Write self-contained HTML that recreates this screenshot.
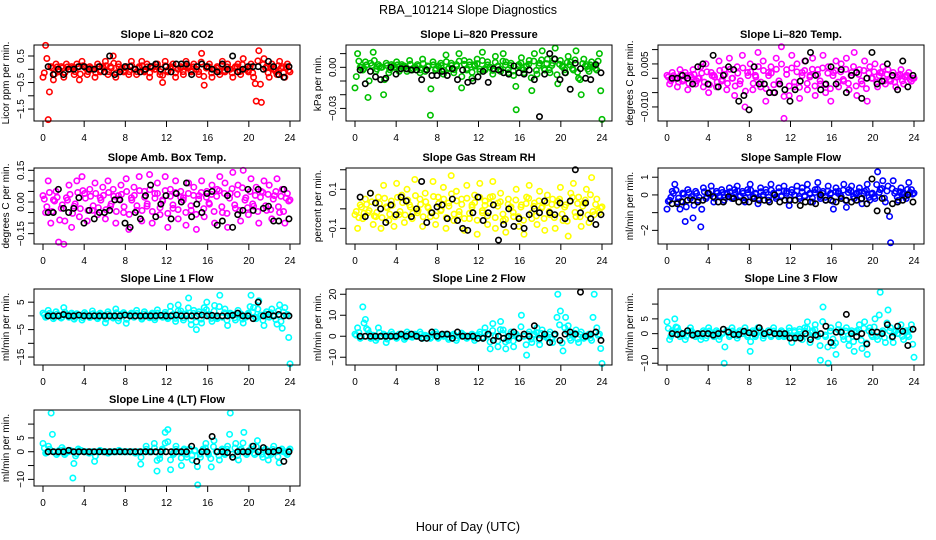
<!DOCTYPE html>
<html><head><meta charset="utf-8">
<style>
html,body{margin:0;padding:0;background:#fff;}
svg{display:block;font-family:"Liberation Sans",Arial,sans-serif;}
</style></head>
<body>
<svg id="chart" width="936" height="540" viewBox="0 0 936 540" xmlns="http://www.w3.org/2000/svg">
<rect width="936" height="540" fill="#fff"/>
<text x="468" y="14" text-anchor="middle" font-size="12.5">RBA_101214  Slope Diagnostics</text>
<text x="468" y="531" text-anchor="middle" font-size="12.5">Hour of Day (UTC)</text>
</svg>
<script>
// ---- data ----
const xTicks = [0,4,8,12,16,20,24];
const co2Color = [-0.3,0.9,-1.9,0.1,-0.4,0.2,-0.1,0.1,-0.3,0.2,0,0.1,-0.2,0.2,-0.4,0.3,0.1,-0.2,0.1,0,-0.3,0.2,-0.1,0.1,0.3,-0.2,0.1,0.5,-0.3,0.2,0,-0.1,0.1,-0.2,0.3,0,-0.2,0.1,0.3,-0.1,0.2,-0.3,0.1,0,0.2,-0.2,-0.5,0.3,-0.1,0.1,0.2,-0.3,0,0.1,-0.2,0.3,0.1,-0.1,0.2,0,-0.2,0.6,-0.6,0.1,0.2,-0.3,0,0.1,-0.2,0.3,-0.1,0.2,0,-0.3,0.1,0.2,-0.2,0.4,0,-0.1,0.2,-0.3,-1.2,0.7,-1.25,0.4,0.1,-0.3,0.2,0,-0.2,0.3,0.1,-0.3,0.2,-0.1];
const co2Black = [0.1,-0.2,0,-0.2,0,0,0.1,0.1,0,0,0.1,-0.1,0.5,-0.2,-0.1,0.1,0.1,0,-0.1,0,0.1,0.2,0,0.1,-0.1,0.2,0.2,0.2,-0.2,0.1,0.2,0.1,0,-0.1,0.2,0,0.5,-0.1,0,0.1,0.1,0.1,0,0.3,0.1,-0.2,-0.3,0.1];
const presColor = [-0.015,0.01,0,-0.002,0.004,-0.022,0.003,0.011,-0.003,0.002,0,-0.02,0.003,-0.004,0.002,0,0.004,-0.003,0.002,0.001,-0.003,0.005,-0.002,0,0.002,-0.004,0.006,-0.003,0.001,-0.035,0.004,-0.002,0.001,0.003,-0.005,0.009,-0.001,0.003,-0.004,0.002,0.010,-0.015,0.005,-0.002,0.004,-0.008,0.002,0.006,-0.003,0.011,-0.002,0.004,0,-0.005,0.008,0.001,-0.003,0.010,0.004,-0.004,0.003,-0.006,-0.031,0.002,0.007,-0.004,0.001,0.005,-0.017,0.010,-0.005,0.003,0.012,-0.002,0.006,-0.004,0.003,0.014,-0.012,0.005,0.001,-0.004,0.008,0.004,-0.002,0.012,-0.008,-0.020,0.006,0.002,-0.003,0.004,0.001,-0.002,0.010,-0.038];
const presBlack = [-0.002,-0.012,-0.003,-0.007,-0.009,-0.008,0,-0.005,-0.001,-0.001,-0.002,-0.002,-0.009,-0.002,-0.006,-0.006,-0.003,-0.006,-0.001,-0.009,-0.002,-0.011,-0.010,-0.007,-0.003,-0.011,-0.001,-0.002,-0.004,-0.005,0.001,-0.004,-0.005,-0.002,-0.009,-0.036,-0.005,0.010,0.006,-0.009,-0.004,-0.016,0.003,-0.001,-0.008,-0.009,0.002,-0.004];
const tempColor = [0.001,-0.002,0.002,0,-0.003,0.003,-0.001,0.002,-0.004,0.001,0.003,-0.002,0,0.004,-0.003,0.005,-0.005,0.002,0.001,-0.003,0.006,-0.001,0.003,-0.004,0.007,0,-0.006,0.004,-0.002,0.008,-0.010,0.002,0.005,-0.004,0.001,0.009,-0.003,0.006,-0.008,0.002,0.004,-0.005,0.007,-0.002,0.011,-0.014,0.003,-0.006,0.008,-0.003,0.005,-0.007,0.002,0.006,-0.004,0.001,0.007,-0.006,0.003,-0.002,0.008,-0.005,0.004,-0.008,0.002,0.006,-0.003,0.005,-0.001,0.007,-0.004,0.002,0.009,-0.006,0.003,-0.002,0.006,-0.008,0.004,0,0.005,-0.003,0.002,0.004,-0.002,0.003,-0.001,0.002,-0.003,0.001,0.003,-0.002,0.001,0.002,-0.001,0];
const tempBlack = [0,0,0.001,0,-0.002,0.004,0.005,-0.002,0.008,-0.003,0.001,0.004,0.003,-0.008,-0.006,-0.011,0.004,-0.002,-0.002,-0.005,-0.005,-0.002,-0.004,-0.008,-0.004,-0.001,0.006,0.009,0.001,-0.004,-0.002,0.004,-0.002,0.003,-0.005,0.001,0.002,-0.007,0,0.009,-0.002,-0.001,0.005,0.001,-0.004,0.006,-0.003,0.001];
const ambColor = [0.03,-0.05,0.1,-0.1,0.01,0.05,-0.19,-0.03,-0.2,0.02,0.08,-0.12,-0.02,0.1,-0.07,0.12,0.04,-0.09,0.06,-0.04,0.09,-0.06,0.02,0.07,-0.08,0.1,-0.02,0.06,-0.1,0.03,0.08,-0.05,0.11,-0.13,0.02,0.07,-0.04,0.12,-0.09,0.05,-0.02,0.13,-0.1,0.04,0.09,-0.06,0.01,0.12,-0.12,0.06,-0.03,0.1,-0.08,0.05,0.02,-0.11,0.09,-0.04,0.07,-0.13,0.03,0.1,-0.07,0.05,-0.01,0.08,-0.1,0.06,0.12,-0.05,0.09,-0.12,0.04,0.14,-0.03,0.08,-0.09,0.15,0.02,-0.06,0.11,-0.02,0.07,-0.1,0.05,0.1,-0.04,0.08,-0.08,0.03,0.11,-0.05,0.06,-0.1,0.04,0.01];
const ambBlack = [-0.05,-0.05,0.06,-0.03,-0.05,-0.03,0.02,-0.1,-0.04,-0.08,-0.05,-0.05,-0.04,0.01,0.01,-0.1,-0.12,-0.05,-0.08,0.03,0.08,-0.07,-0.01,0.03,-0.08,0.04,0,0.09,-0.07,-0.01,-0.05,0.04,0.05,-0.11,-0.09,0.03,-0.12,-0.06,-0.04,0.06,-0.04,0.06,-0.03,-0.02,-0.09,-0.09,0.06,-0.08];
const rhColor = [-0.03,-0.1,0.02,-0.05,0.05,-0.02,0.08,-0.08,-0.04,0.06,-0.1,0.12,0.01,-0.06,0.04,-0.09,0.13,-0.03,0.07,-0.07,0.1,0.02,-0.05,0.15,-0.02,0.05,-0.09,0.08,0.01,-0.04,0.14,-0.08,0.06,-0.01,0.11,-0.1,0.03,0.17,-0.06,0.09,-0.03,0.05,-0.11,0.12,-0.05,0.02,0.07,-0.13,0.13,-0.02,0.04,-0.08,0.06,0.14,-0.1,0.03,0.08,-0.06,-0.12,0.05,0.01,-0.04,0.1,-0.09,0.02,-0.13,0.06,0.12,-0.05,0.03,-0.08,0.09,0.01,-0.11,0.07,-0.03,0.05,-0.1,0.04,0.11,-0.06,0.02,-0.14,0.08,0.13,-0.04,0.06,-0.09,0.03,0.1,-0.07,0.16,-0.03,0.05,-0.02,0.01];
const rhBlack = [0.06,-0.04,0.08,0.03,0,-0.07,0.02,-0.03,0.06,0.04,-0.04,0,0.14,-0.07,-0.02,0.01,0.02,-0.05,0.05,-0.06,-0.1,-0.11,-0.02,0.06,-0.06,-0.02,0.02,-0.16,-0.08,0,-0.09,-0.05,-0.1,-0.03,0,-0.02,0.04,-0.02,-0.03,0.03,-0.05,0.04,0.2,-0.02,0.03,-0.05,-0.08,-0.03];
const flowColor = [-0.8,-0.3,0.2,0.6,-0.4,-0.8,0.1,-1.5,0.3,-0.2,-1.3,0.2,-0.3,-1.8,0.4,-0.2,0.1,0.5,-0.4,0.2,-0.1,0.3,-0.3,0.1,0.4,-0.2,0.3,0.5,-0.1,0.2,-0.4,0.3,0.6,-0.2,0.1,-0.5,0.4,0,0.3,-0.3,0.6,0.1,-0.2,0.4,-0.1,0.5,0.2,-0.6,0.3,0,0.5,-0.2,0.4,-0.1,0.6,0.1,-0.4,0.3,0.7,-0.2,0.2,-0.3,0.5,0.1,-0.8,0.4,0.2,-0.1,0.6,-0.7,0.3,0.5,-0.2,0.1,0.4,-0.5,0.2,0.6,-0.3,0.1,-0.2,1.3,0.3,0.8,-0.4,0.5,-2.7,0.8,0.2,-0.3,0.4,0.1,-0.2,0.7,0.3,0.1];
const flowBlack = [-0.5,-0.5,-0.4,-0.3,-0.3,-0.4,-0.3,0.1,-0.1,-0.4,-0.4,-0.1,-0.2,-0.4,-0.3,-0.4,-0.2,-0.3,-0.3,-0.4,0,-0.4,-0.3,-0.3,-0.3,-0.6,-0.4,-0.4,-0.5,0,-0.3,-0.3,-0.4,-0.2,-0.3,-0.4,-0.3,-0.2,-0.5,0.9,-0.9,-0.2,-0.9,-0.5,-0.4,-0.3,0,-0.4];
const line1Color = [1,-0.5,2,0.3,-1,1.5,0.2,-0.8,3,0.5,-0.5,1,-1.2,0.8,0.3,-1.5,1.2,0,-0.6,1.8,0.4,-1,1,0.2,-2.5,1.5,0,-0.8,2.5,-1.8,0.6,1.2,-2.7,0.3,1,-0.5,2,0,-1.2,1.5,0.3,-0.7,1,-1.4,2.2,0,-0.5,1.3,-1,3.5,0.5,-2,4,1.8,-1.5,0.8,6.5,-3.2,2,-5,1.5,-2.6,3,5,0.5,-2,3.8,-1,7.5,-0.5,2.5,-3.5,1,0.5,-1.5,2,0.8,-2.6,-0.5,1,7.5,3,-1,5.5,0.3,-3.5,1.5,-0.5,2.5,0,-3,4,-4.5,3,0.5,-17.5];
const line1Black = [0,0,0,0.5,0,0,0.3,0,0,0,0,0,0,0,0,0.3,0,0,0,0,0,0,0.2,0,0,0.3,0,0,0,0,0.3,0,0.2,0,0,0,0.2,1,0,0,-1,5,0,0.5,0,0.5,0,0];
const line2Color = [1,4,-1,14,8,3,-1,0.5,-2,4,0,1,-3,0.5,2,0,-1,1,0.5,-1.5,2,0,-0.5,1,0,2,-1,0.5,0,-1,1,2,-1,0.5,0,1,-1.5,0.5,1,-2,0,1.5,0.5,-1,0,1,-2,0.5,2,-1,4,1,-6,6,0,-5,7,3,-6,-2,2,-5,1,-1,10,0,-9,2,-3,1,4,-4,3,0,-1,2,-3,1,20,12,-7,9,5,-2,1,3,-3,2,-1,0,1,-2,20,4,1,-13];
const line2Black = [0,0,0,0,0,0,0,0,1,0,1,0,-1,-1,2,0,1,1,-1,2,0,0,0,-1,-1,1,-2,0,-1,0,2,-1,1,0,5,-1,1,-3,1,-2,1,2,1,21,0,1,2,-2];
const line3Color = [4,-2,1,5,2,-1,0,-2,1,2,0,-1,0,-2,1,-1.5,2,0,-1,1,-2,0,-10,1,-1,2,0,-1.5,1,0,2,-1,-6,1,-1,2,1,-1.5,0,1,-1,2,0,-1,1,-1,0,2,-3,1,-1,1.5,-2,2,4,-3,1,3,-1,-9,9,-1,-10,2,-4,-7,3,1,-2,2,-4,1,-6,1,3,-5,4,-7,2,-1,5,-2,14,1,-3,8,2,-3,1,0,3,-2,1,-1,3,-8];
const line3Black = [0,-0.3,0,1,-0.5,0,0,0,-0.5,0,1.5,0.5,-0.3,-0.3,0.8,0.3,0,2,0,0.5,0,0,0,-1.5,-1.5,-1.5,0,-2,-0.5,0,2.5,-3,0.5,0.5,6.5,0,-1,0,-3.5,0.5,0.5,0,3,-1,2.5,0.8,-4,1.5];
const line4Color = [3,-0.5,2,14,0,-1,0.5,1.5,-1,0,0.5,-9.5,-1.5,1,0.5,0,0,-0.5,0,-3.5,0,0.5,0,0,-0.5,0,0,0,0.5,0,0,0,0,0,-0.5,0,-4.5,0,2,0,0,3,-7,-2.5,1,7,8,-6.5,-1,2,0,-5,1,-2,1,-3,0.5,-12,-2,1,3,-1,-5.5,4,0,-3,1,-1,2,14,-2,3,-3,1,7,-1,0.5,2,-1,4,0.5,-2,1,-3,-1,2,0,-4,1,0,-1,1];
const line4Black = [0,0,0,0,0.5,0,0,0,0,0,0,0,0,0,0,0,0,0,0,0,0,0,0,0,0,0,0,0,2,-3.5,0,0,5.5,0,0,-0.3,-2,0,0,0,2,0,1.5,0,0,0.5,-3.5,0];

// ---- layout ----
const colLeft = [34,346,658];
const rowTop = [45,168,289,410];
const PW = 266, PH = 76;
const panels = [
 {name:'co2',title:'Slope Li\u2013820 CO2',ylab:'Licor ppm per min.',col:0,row:0,ymin:-1.95,ymax:0.915,ticks:[-1.5,-1,-0.5,0,0.5],labels:{'-1.5':'\u22121.5','-0.5':'\u22120.5','0.5':'0.5'},color:'#ff0000',cdata:co2Color,bdata:co2Black},
 {name:'pressure',title:'Slope Li\u2013820 Pressure',ylab:'kPa per min.',col:1,row:0,ymin:-0.0392,ymax:0.0163,ticks:[-0.03,-0.02,-0.01,0,0.01],labels:{'-0.03':'\u22120.03','0':'0.00'},color:'#00c000',cdata:presColor,bdata:presBlack},
 {name:'temp',title:'Slope Li\u2013820 Temp.',ylab:'degrees C per min.',col:2,row:0,ymin:-0.0149,ymax:0.0116,ticks:[-0.01,-0.005,0,0.005,0.01],labels:{'-0.01':'\u22120.010','0.005':'0.005'},color:'#ff00ff',cdata:tempColor,bdata:tempBlack},
 {name:'amb-box-temp',title:'Slope Amb. Box Temp.',ylab:'degrees C per min.',col:0,row:1,ymin:-0.199,ymax:0.161,ticks:[-0.15,-0.1,-0.05,0,0.05,0.1,0.15],labels:{'-0.15':'\u22120.15','0':'0.00','0.15':'0.15'},color:'#ff00ff',cdata:ambColor,bdata:ambBlack},
 {name:'gas-rh',title:'Slope Gas Stream RH',ylab:'percent per min.',col:1,row:1,ymin:-0.18,ymax:0.209,ticks:[-0.1,0,0.1,0.2],labels:{'-0.1':'\u22120.1','0.1':'0.1'},color:'#ffff00',cdata:rhColor,bdata:rhBlack},
 {name:'sample-flow',title:'Slope Sample Flow',ylab:'ml/min per min.',col:2,row:1,ymin:-2.77,ymax:1.52,ticks:[-2,-1,0,1],labels:{'-2':'\u22122','0':'0','1':'1'},color:'#0000ff',cdata:flowColor,bdata:flowBlack},
 {name:'line1-flow',title:'Slope Line 1 Flow',ylab:'ml/min per min.',col:0,row:2,ymin:-17.9,ymax:9.8,ticks:[-15,-10,-5,0,5],labels:{'-15':'\u221215','-5':'\u22125','5':'5'},color:'#00ffff',cdata:line1Color,bdata:line1Black},
 {name:'line2-flow',title:'Slope Line 2 Flow',ylab:'ml/min per min.',col:1,row:2,ymin:-13.7,ymax:22.5,ticks:[-10,0,10,20],labels:{'-10':'\u221210','0':'0','10':'10','20':'20'},color:'#00ffff',cdata:line2Color,bdata:line2Black},
 {name:'line3-flow',title:'Slope Line 3 Flow',ylab:'ml/min per min.',col:2,row:2,ymin:-10.6,ymax:15.1,ticks:[-10,-5,0,5,10],labels:{'-10':'\u221210','0':'0','5':'5'},color:'#00ffff',cdata:line3Color,bdata:line3Black},
 {name:'line4-flow',title:'Slope Line 4 (LT) Flow',ylab:'ml/min per min.',col:0,row:3,ymin:-12.4,ymax:15.1,ticks:[-10,-5,0,5,10],labels:{'-10':'\u221210','0':'0','5':'5'},color:'#00ffff',cdata:line4Color,bdata:line4Black}
];
const NS='http://www.w3.org/2000/svg';
const svg=document.getElementById('chart');
function mk(tag,attrs,parent){const e=document.createElementNS(NS,tag);for(const k in attrs)e.setAttribute(k,attrs[k]);parent.appendChild(e);return e;}

panels.forEach(p=>{
  const L=colLeft[p.col], T=rowTop[p.row], B=T+PH;
  const xs=h=>L+9+h*(247/24);
  const ys=v=>T+(p.ymax-v)/(p.ymax-p.ymin)*PH;
  const g=mk('g',{},svg);
  
  
  const t=mk('text',{x:L+PW/2,y:T-7,'text-anchor':'middle','font-size':'11','font-weight':'bold'},g);
  t.textContent=p.title;
  
  
  const pts=mk('g',{fill:'none','stroke-width':'1.6'},g);
  
  
  p.cdata.forEach((v,i)=>{
    const c=mk('circle',{cx:xs(i*24/(p.cdata.length-1)),cy:ys(v),r:2.7,stroke:p.color},pts);
    
    
  });
  p.cdata.forEach((v,i)=>{
    const c=mk('circle',{cx:xs((i+0.5)*24/(p.cdata.length)),cy:ys(v*0.45),r:2.7,stroke:p.color},pts);
    
    
  });
  p.bdata.forEach((v,i)=>{
    const c=mk('circle',{cx:xs(0.5+i*23.4/(p.bdata.length-1)),cy:ys(v),r:2.7,stroke:'#000'},pts);
    
    
  });
  const bx=mk('rect',{x:L,y:T,width:PW,height:PH,fill:'none',stroke:'#000','stroke-width':'1'},g);
  
  
  const xa=mk('g',{},g);
  
  
  xTicks.forEach(h=>{
    mk('line',{x1:xs(h),x2:xs(h),y1:B,y2:B+6,stroke:'#000'},xa);
    const tl=mk('text',{x:xs(h),y:B+20,'text-anchor':'middle','font-size':'10'},xa);
    tl.textContent=h;
    
    
  });
  const ya=mk('g',{},g);
  
  
  p.ticks.forEach(v=>{
    const y=ys(v);
    mk('line',{x1:L-6,x2:L,y1:y,y2:y,stroke:'#000'},ya);
    const lab=p.labels[String(v)];
    if(lab!==undefined){
      const tl=mk('text',{x:L-10,y:y,'text-anchor':'middle','font-size':'10',transform:`rotate(-90 ${L-10} ${y})`},ya);
      tl.textContent=lab;
      
      
    }
  });
  const yl=mk('text',{x:L-25,y:T+PH/2,'text-anchor':'middle','font-size':'10',transform:`rotate(-90 ${L-25} ${T+PH/2})`},g);
  yl.textContent=p.ylab;
  
  
});
</script>
</body></html>
